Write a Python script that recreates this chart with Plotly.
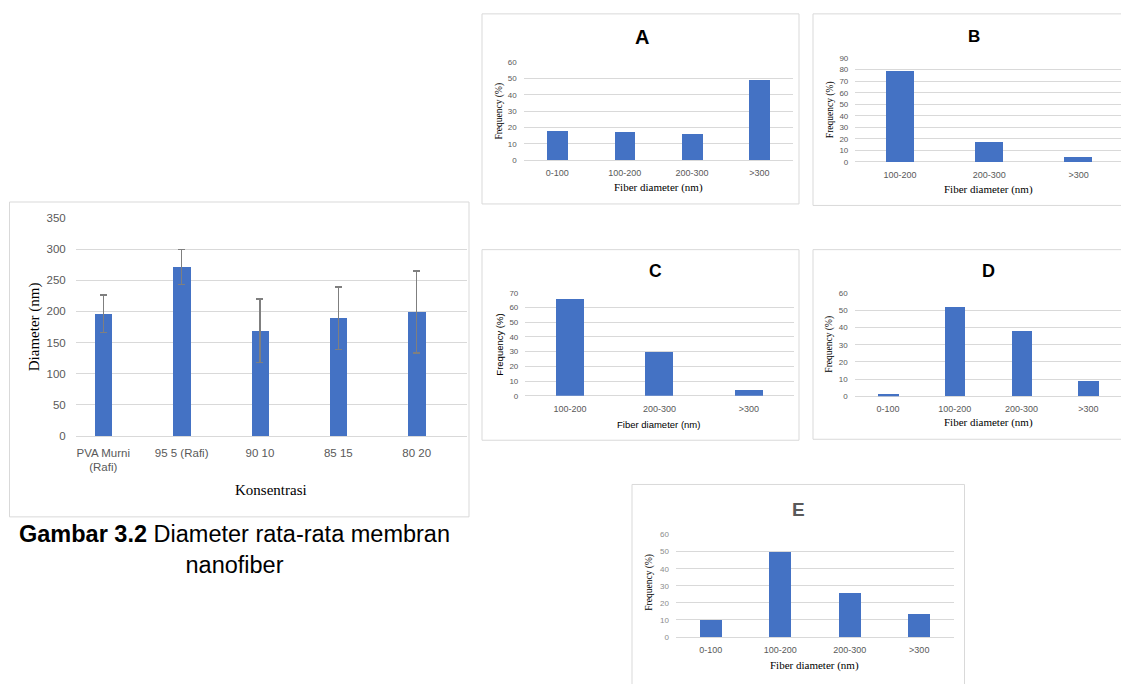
import plotly.graph_objects as go

W, H = 1121, 684

# ---------------- data ----------------
main_categories = ["PVA Murni<br>(Rafi)", "95 5 (Rafi)", "90 10", "85 15", "80 20"]
main_values = [196, 271, 169, 189, 199]
main_errors = [30, 28, 51, 50, 66]

cats_A = ["0-100", "100-200", "200-300", ">300"]
vals_A = [18, 17, 16, 49]
cats_B = ["100-200", "200-300", ">300"]
vals_B = [79, 17, 4]
cats_C = ["100-200", "200-300", ">300"]
vals_C = [66, 30, 4]
cats_D = ["0-100", "100-200", "200-300", ">300"]
vals_D = [1, 52, 38, 9]
cats_E = ["0-100", "100-200", "200-300", ">300"]
vals_E = [10, 50, 26, 14]

BAR = "#4472C4"
GRID = "#d9d9d9"
TICK = "#595959"
SERIF = "Liberation Serif, Times New Roman, serif"
SANS = "Liberation Sans, Arial, sans-serif"


def px(x):
    return x / W


def py(y):
    return 1 - y / H


fig = go.Figure()
annotations = []
shapes = []


def box(x0, y0, x1, y1):
    shapes.append(dict(type="rect", xref="paper", yref="paper",
                       x0=px(x0), x1=px(x1), y0=py(y1), y1=py(y0),
                       line=dict(color=GRID, width=1), fillcolor="rgba(0,0,0,0)",
                       layer="below"))


def text(t, x, y, size, family, color="black", angle=0, bold=False):
    if bold:
        t = "<b>" + t + "</b>"
    annotations.append(dict(text=t, x=px(x), y=py(y), xref="paper", yref="paper",
                            showarrow=False, xanchor="center", yanchor="middle",
                            textangle=angle, font=dict(size=size, family=family, color=color)))


def panel(idx, cats, vals, xl, xr, ytop, ybot, ymax, dtick, xrange, bw,
          ytick_color=TICK):
    xa = "x%d" % idx
    ya = "y%d" % idx
    fig.add_trace(go.Bar(x=cats, y=vals, xaxis=xa, yaxis=ya, marker_color=BAR,
                         marker_line_width=0, width=bw, showlegend=False))
    fig.update_layout(**{
        "xaxis%d" % idx: dict(domain=[px(xl), min(px(xr), 1.0)], anchor=ya, range=xrange,
                              showgrid=False, zeroline=False, showline=False,
                              tickfont=dict(size=9, family=SANS, color=TICK),
                              ticks="", ticklabelstandoff=6),
        "yaxis%d" % idx: dict(domain=[py(ybot), py(ytop)], anchor=xa, range=[0, ymax],
                              dtick=dtick, showgrid=True, gridcolor=GRID, gridwidth=1,
                              zeroline=True, zerolinecolor=GRID, zerolinewidth=1,
                              showline=False, ticks="",
                              tickfont=dict(size=8, family=SANS, color=ytick_color),
                              ticklabelstandoff=6),
    })


# ---------------- main chart ----------------
fig.add_trace(go.Bar(x=main_categories, y=main_values, marker_color=BAR,
                     marker_line_width=0, width=0.22, showlegend=False,
                     error_y=dict(type="data", array=main_errors, visible=True,
                                  color="#7f7f7f", thickness=1.5, width=3.5)))
fig.update_layout(
    xaxis=dict(domain=[px(75.7), px(466.7)], anchor="y", range=[-0.352, 4.638],
               showgrid=False, zeroline=False, showline=False, ticks="",
               tickfont=dict(size=11.5, family=SANS, color=TICK), ticklabelstandoff=8),
    yaxis=dict(domain=[py(437.7), py(215.7)], anchor="x", range=[0, 350], dtick=50,
               showgrid=True, gridcolor=GRID, gridwidth=1, zeroline=True,
               zerolinecolor=GRID, zerolinewidth=1, showline=False, ticks="",
               tickfont=dict(size=11.5, family=SANS, color=TICK), ticklabelstandoff=9),
)
box(9.5, 199.5, 469, 520)
text("Diameter (nm)", 34, 327, 15, SERIF, angle=-90)
text("Konsentrasi", 271, 493, 15, SERIF)
annotations.append(dict(
    text="<b>Gambar 3.2</b> Diameter rata-rata membran<br>nanofiber",
    x=px(234), y=py(553), xref="paper", yref="paper", showarrow=False,
    xanchor="center", yanchor="middle", align="center",
    font=dict(size=23.5, family=SANS, color="black")))

# ---------------- panel A ----------------
panel(2, cats_A, vals_A, 523.7, 793, 57, 157, 60, 10, [-0.5, 3.5], 0.31)
box(482, 8, 799, 201.5)
text("A", 642, 32, 20, SANS, bold=True)
text("Fiber diameter (nm)", 658.7, 184.7, 11, SERIF)
text("Frequency (%)", 499.5, 107, 9.5, SERIF, angle=-90)

# ---------------- panel B ----------------
panel(3, cats_B, vals_B, 855.3, 1121, 53, 158.7, 90, 10, [-0.5, 2.475], 0.31)
box(813, 8, 1130, 203)
text("B", 973.5, 31, 17, SANS, bold=True)
text("Fiber diameter (nm)", 988.7, 187, 11, SERIF)
text("Frequency (%)", 830, 106, 9.5, SERIF, angle=-90)

# ---------------- panel C ----------------
panel(4, cats_C, vals_C, 525.3, 793.7, 292, 396.7, 70, 10, [-0.5, 2.5], 0.31)
box(482, 248, 799, 442)
text("C", 655.5, 270, 17.5, SANS, bold=True)
text("Fiber diameter (nm)", 658.7, 425.7, 9.5, SANS)
text("Frequency (%)", 500, 344.7, 9.5, SANS, angle=-90)

# ---------------- panel D ----------------
panel(5, cats_D, vals_D, 854.7, 1121, 292.3, 397.3, 60, 10, [-0.5, 3.49], 0.31)
box(813, 248, 1130, 441)
text("D", 988, 270, 18, SANS, bold=True)
text("Fiber diameter (nm)", 988.7, 423.7, 11, SERIF)
text("Frequency (%)", 830, 344.7, 9.5, SERIF, angle=-90)

# ---------------- panel E ----------------
panel(6, cats_E, vals_E, 676, 954, 538, 642.3, 60, 10, [-0.5, 3.5], 0.32,
      ytick_color="#8c8c8c")
box(632, 487, 964.5, 700)
text("E", 798.7, 512, 19, SANS, color="#595959", bold=True)
text("Fiber diameter (nm)", 814.7, 671.3, 11, SERIF)
text("Frequency (%)", 650, 587, 9.5, SERIF, angle=-90)

fig.update_layout(
    width=W, height=H, margin=dict(l=0, r=0, t=0, b=0),
    paper_bgcolor="white", plot_bgcolor="white",
    annotations=annotations, shapes=shapes, bargap=0,
)

fig.write_html(
    "out.html",
    config={"displayModeBar": False},
    post_script="document.body.style.margin='0';document.body.style.overflow='hidden';",
)
